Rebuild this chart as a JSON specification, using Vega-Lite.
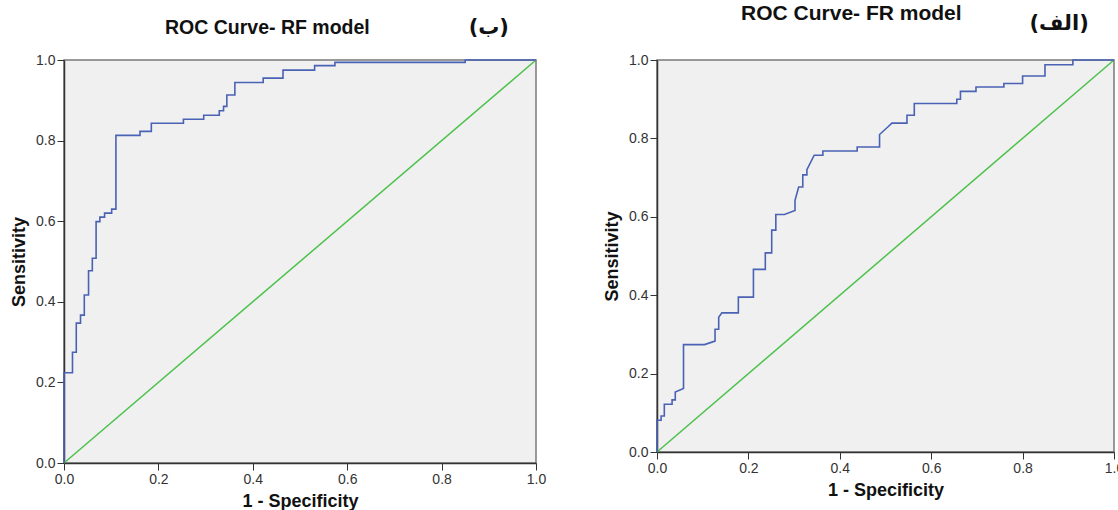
{
  "$schema": "https://vega.github.io/schema/vega-lite/v6.json",
  "background": "white",
  "padding": {"left": 9, "top": 2, "right": 5, "bottom": 5},
  "bounds": "flush",
  "spacing": 121,
  "config": {
    "view": {"fill": "#f0f0f0", "stroke": "#7a7a7a", "strokeWidth": 1.5},
    "axis": {
      "grid": false,
      "domainColor": "#333333",
      "domainWidth": 1.5,
      "tickColor": "#333333",
      "tickSize": 7,
      "labelFont": "Liberation Sans",
      "labelFontSize": 14,
      "labelColor": "#333333",
      "labelFlush": false,
      "labelOverlap": false,
      "titleFont": "Liberation Sans",
      "titleFontSize": 18,
      "titleFontWeight": "bold",
      "titleColor": "#111111"
    }
  },
  "datasets": {
    "rf": [
      {"fpr": 0, "tpr": 0}, {"fpr": 0, "tpr": 0.224}, {"fpr": 0.018, "tpr": 0.224}, {"fpr": 0.018, "tpr": 0.275},
      {"fpr": 0.026, "tpr": 0.275}, {"fpr": 0.026, "tpr": 0.347}, {"fpr": 0.035, "tpr": 0.347}, {"fpr": 0.035, "tpr": 0.367},
      {"fpr": 0.043, "tpr": 0.367}, {"fpr": 0.043, "tpr": 0.417}, {"fpr": 0.052, "tpr": 0.417}, {"fpr": 0.052, "tpr": 0.477},
      {"fpr": 0.06, "tpr": 0.477}, {"fpr": 0.06, "tpr": 0.508}, {"fpr": 0.068, "tpr": 0.508}, {"fpr": 0.068, "tpr": 0.599},
      {"fpr": 0.076, "tpr": 0.599}, {"fpr": 0.076, "tpr": 0.61}, {"fpr": 0.086, "tpr": 0.61}, {"fpr": 0.086, "tpr": 0.62},
      {"fpr": 0.101, "tpr": 0.62}, {"fpr": 0.101, "tpr": 0.63}, {"fpr": 0.11, "tpr": 0.63}, {"fpr": 0.11, "tpr": 0.813},
      {"fpr": 0.161, "tpr": 0.813}, {"fpr": 0.161, "tpr": 0.823}, {"fpr": 0.185, "tpr": 0.823}, {"fpr": 0.185, "tpr": 0.843},
      {"fpr": 0.253, "tpr": 0.843}, {"fpr": 0.253, "tpr": 0.853}, {"fpr": 0.296, "tpr": 0.853}, {"fpr": 0.296, "tpr": 0.863},
      {"fpr": 0.329, "tpr": 0.863}, {"fpr": 0.329, "tpr": 0.874}, {"fpr": 0.338, "tpr": 0.874}, {"fpr": 0.338, "tpr": 0.885},
      {"fpr": 0.345, "tpr": 0.885}, {"fpr": 0.345, "tpr": 0.913}, {"fpr": 0.362, "tpr": 0.913}, {"fpr": 0.362, "tpr": 0.944},
      {"fpr": 0.422, "tpr": 0.944}, {"fpr": 0.422, "tpr": 0.955}, {"fpr": 0.464, "tpr": 0.955}, {"fpr": 0.464, "tpr": 0.975},
      {"fpr": 0.531, "tpr": 0.975}, {"fpr": 0.531, "tpr": 0.986}, {"fpr": 0.574, "tpr": 0.986}, {"fpr": 0.574, "tpr": 0.994},
      {"fpr": 0.85, "tpr": 0.994}, {"fpr": 0.85, "tpr": 1}, {"fpr": 1, "tpr": 1}
    ],
    "fr": [
      {"fpr": 0, "tpr": 0}, {"fpr": 0, "tpr": 0.081}, {"fpr": 0.009, "tpr": 0.081}, {"fpr": 0.009, "tpr": 0.092},
      {"fpr": 0.016, "tpr": 0.092}, {"fpr": 0.016, "tpr": 0.122}, {"fpr": 0.033, "tpr": 0.122}, {"fpr": 0.033, "tpr": 0.133},
      {"fpr": 0.04, "tpr": 0.133}, {"fpr": 0.04, "tpr": 0.153}, {"fpr": 0.058, "tpr": 0.162}, {"fpr": 0.058, "tpr": 0.274},
      {"fpr": 0.104, "tpr": 0.274}, {"fpr": 0.127, "tpr": 0.283}, {"fpr": 0.127, "tpr": 0.313}, {"fpr": 0.135, "tpr": 0.313},
      {"fpr": 0.135, "tpr": 0.344}, {"fpr": 0.142, "tpr": 0.355}, {"fpr": 0.178, "tpr": 0.355}, {"fpr": 0.178, "tpr": 0.395},
      {"fpr": 0.211, "tpr": 0.395}, {"fpr": 0.211, "tpr": 0.466}, {"fpr": 0.237, "tpr": 0.466}, {"fpr": 0.237, "tpr": 0.508},
      {"fpr": 0.251, "tpr": 0.508}, {"fpr": 0.251, "tpr": 0.566}, {"fpr": 0.26, "tpr": 0.566}, {"fpr": 0.26, "tpr": 0.606},
      {"fpr": 0.279, "tpr": 0.606}, {"fpr": 0.302, "tpr": 0.616}, {"fpr": 0.302, "tpr": 0.642}, {"fpr": 0.31, "tpr": 0.676},
      {"fpr": 0.319, "tpr": 0.676}, {"fpr": 0.319, "tpr": 0.707}, {"fpr": 0.328, "tpr": 0.707}, {"fpr": 0.328, "tpr": 0.72},
      {"fpr": 0.344, "tpr": 0.757}, {"fpr": 0.363, "tpr": 0.757}, {"fpr": 0.363, "tpr": 0.768}, {"fpr": 0.438, "tpr": 0.768},
      {"fpr": 0.438, "tpr": 0.778}, {"fpr": 0.487, "tpr": 0.778}, {"fpr": 0.487, "tpr": 0.81}, {"fpr": 0.505, "tpr": 0.829},
      {"fpr": 0.514, "tpr": 0.839}, {"fpr": 0.547, "tpr": 0.839}, {"fpr": 0.547, "tpr": 0.859}, {"fpr": 0.563, "tpr": 0.859},
      {"fpr": 0.563, "tpr": 0.889}, {"fpr": 0.656, "tpr": 0.889}, {"fpr": 0.656, "tpr": 0.9}, {"fpr": 0.664, "tpr": 0.9},
      {"fpr": 0.664, "tpr": 0.92}, {"fpr": 0.698, "tpr": 0.92}, {"fpr": 0.698, "tpr": 0.931}, {"fpr": 0.759, "tpr": 0.931},
      {"fpr": 0.759, "tpr": 0.94}, {"fpr": 0.8, "tpr": 0.94}, {"fpr": 0.8, "tpr": 0.959}, {"fpr": 0.849, "tpr": 0.959},
      {"fpr": 0.849, "tpr": 0.988}, {"fpr": 0.91, "tpr": 0.988}, {"fpr": 0.91, "tpr": 1}, {"fpr": 1, "tpr": 1}
    ],
    "diag": [{"fpr": 0, "tpr": 0}, {"fpr": 1, "tpr": 1}],
    "titleA": [{"label": "ROC Curve- RF model"}],
    "titleB": [{"label": "ROC Curve- FR model"}],
    "labelA": [{"label": "(ب)"}],
    "labelB": [{"label": "(الف)"}]
  },
  "hconcat": [
    {
      "width": 472,
      "height": 403,
      "layer": [
        {
          "data": {"name": "diag"},
          "mark": {"type": "line", "color": "#4cc24c", "strokeWidth": 1.5},
          "encoding": {
            "x": {"field": "fpr", "type": "quantitative", "scale": {"domain": [0, 1], "nice": false},
                  "axis": {"values": [0, 0.2, 0.4, 0.6, 0.8, 1], "format": ".1f", "title": "1 - Specificity", "titlePadding": 6}},
            "y": {"field": "tpr", "type": "quantitative", "scale": {"domain": [0, 1], "nice": false},
                  "axis": {"values": [0, 0.2, 0.4, 0.6, 0.8, 1], "format": ".1f", "title": "Sensitivity", "labelPadding": 2, "titlePadding": 7}}
          }
        },
        {
          "data": {"name": "rf"},
          "mark": {"type": "line", "color": "#4a62b4", "strokeWidth": 1.6},
          "encoding": {
            "x": {"field": "fpr", "type": "quantitative"},
            "y": {"field": "tpr", "type": "quantitative"},
            "order": {"value": null}
          }
        },
        {
          "data": {"name": "titleA"},
          "mark": {"type": "text", "font": "Liberation Sans", "fontSize": 19.5, "fontWeight": "bold", "color": "#111111", "align": "left", "baseline": "middle"},
          "encoding": {
            "x": {"datum": 0.214, "type": "quantitative"},
            "y": {"datum": 1.079, "type": "quantitative"},
            "text": {"field": "label"}
          }
        },
        {
          "data": {"name": "labelA"},
          "mark": {"type": "text", "font": "DejaVu Sans", "fontSize": 21, "fontWeight": "bold", "color": "#111111", "baseline": "middle"},
          "encoding": {
            "x": {"datum": 0.9, "type": "quantitative"},
            "y": {"datum": 1.079, "type": "quantitative"},
            "text": {"field": "label"}
          }
        }
      ]
    },
    {
      "width": 457,
      "height": 392,
      "layer": [
        {
          "data": {"name": "diag"},
          "mark": {"type": "line", "color": "#4cc24c", "strokeWidth": 1.5},
          "encoding": {
            "x": {"field": "fpr", "type": "quantitative", "scale": {"domain": [0, 1], "nice": false},
                  "axis": {"values": [0, 0.2, 0.4, 0.6, 0.8, 1], "format": ".1f", "title": "1 - Specificity", "titlePadding": 6}},
            "y": {"field": "tpr", "type": "quantitative", "scale": {"domain": [0, 1], "nice": false},
                  "axis": {"values": [0, 0.2, 0.4, 0.6, 0.8, 1], "format": ".1f", "title": "Sensitivity", "labelPadding": 2, "titlePadding": 7}}
          }
        },
        {
          "data": {"name": "fr"},
          "mark": {"type": "line", "color": "#4a62b4", "strokeWidth": 1.6},
          "encoding": {
            "x": {"field": "fpr", "type": "quantitative"},
            "y": {"field": "tpr", "type": "quantitative"},
            "order": {"value": null}
          }
        },
        {
          "data": {"name": "titleB"},
          "mark": {"type": "text", "font": "Liberation Sans", "fontSize": 21, "fontWeight": "bold", "color": "#111111", "align": "left", "baseline": "middle"},
          "encoding": {
            "x": {"datum": 0.184, "type": "quantitative"},
            "y": {"datum": 1.117, "type": "quantitative"},
            "text": {"field": "label"}
          }
        },
        {
          "data": {"name": "labelB"},
          "mark": {"type": "text", "font": "DejaVu Sans", "fontSize": 21, "fontWeight": "bold", "color": "#111111", "baseline": "middle"},
          "encoding": {
            "x": {"datum": 0.88, "type": "quantitative"},
            "y": {"datum": 1.092, "type": "quantitative"},
            "text": {"field": "label"}
          }
        }
      ]
    }
  ]
}
